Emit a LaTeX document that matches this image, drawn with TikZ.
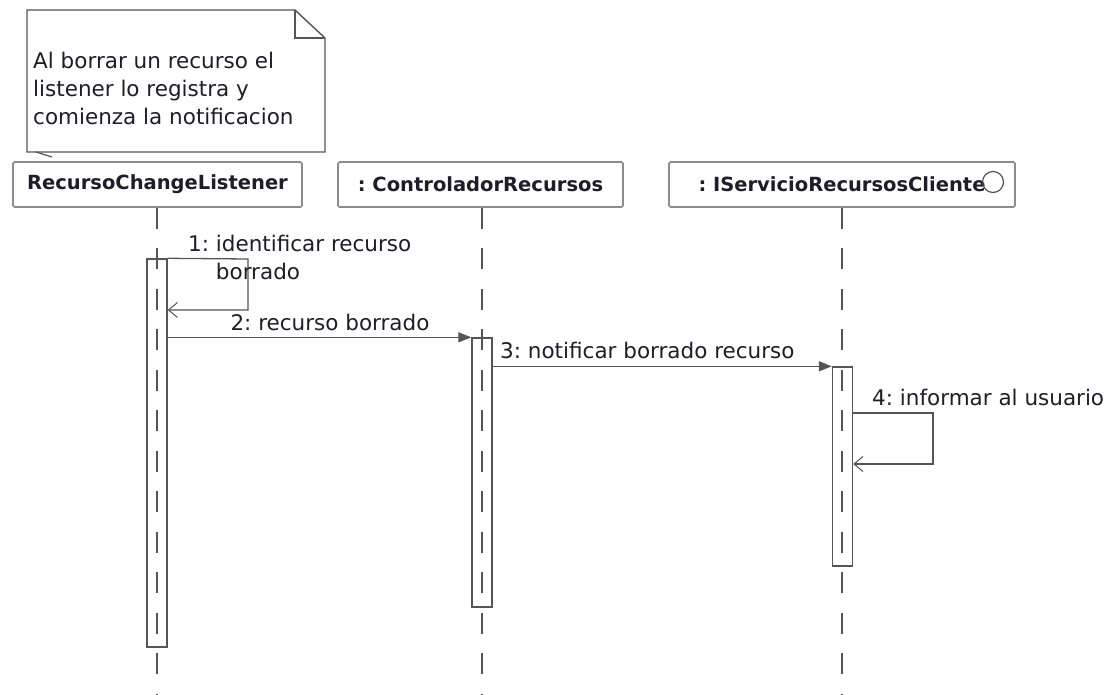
\documentclass[tikz,border=0pt]{standalone}
\usepackage{fontspec}
\setmainfont{DejaVu Sans}
\usetikzlibrary{arrows.meta}
\definecolor{edge}{HTML}{555555}
\definecolor{frame}{HTML}{8C8C8C}
\definecolor{ink}{HTML}{1E1E2A}
\frenchspacing
\begin{document}
\begin{tikzpicture}[x=1pt,y=-1pt,
  lifebox/.style={draw=frame, line width=1.7pt, rounded corners=1.5pt, fill=white,
    inner sep=0pt, minimum height=45pt, text=ink,
    font=\fontsize{19.5}{23}\selectfont\bfseries},
  lifeline/.style={draw=edge, line width=1.3pt, dash pattern=on 21pt off 19.5pt},
  actbox/.style={draw=edge, line width=1.4pt, minimum width=20pt, inner sep=0pt},
  label/.style={text=ink, inner sep=0pt, font=\fontsize{21.5}{28}\selectfont},
  call/.style={draw=edge, line width=1.3pt, -{Triangle[length=13pt,width=10pt]}},
  reply/.style={draw=edge, line width=1.3pt, -{Straight Barb[length=9pt,width=15pt,line width=1pt]}},
  notebox/.style={draw=edge, line width=1.4pt, line join=miter},
]
\useasboundingbox (0,0) rectangle (1113,695);

% comment note
\coordinate (nTL) at (27,10);
\coordinate (nFold) at (295,10);
\coordinate (nFoldIn) at (295,38);
\coordinate (nFoldR) at (325,38);
\coordinate (nBR) at (325,152);
\coordinate (nBL) at (27,152);
\fill[white] (nTL) -- (nFold) -- (nFoldR) -- (nBR) -- (nBL) -- cycle;
\draw[notebox] (nTL) -- (nFold) -- (nFoldR) -- (nBR) -- (nBL) -- cycle;
\draw[notebox] (nFold) -- (nFoldIn) -- (nFoldR);
\node[label, anchor=north west, align=left] (note) at (33,51.5)
  {Al borrar un recurso el\\listener lo registra y\\comienza la notificacion};
\coordinate (nLink) at (36,152);
\coordinate (nLinkEnd) at (52,157);
\draw[draw=edge, line width=1.2pt] (nLink) -- (nLinkEnd);

% participants
\node[lifebox, minimum width=289pt] (L1) at (157.5,184.5) {RecursoChangeListener};
\node[lifebox, minimum width=285pt] (L2) at (480.5,184.5) {: ControladorRecursos};
\node[lifebox, minimum width=346pt] (L3) at (842,184.5) {: IServicioRecursosCliente\hspace{8pt}};
\node[circle, draw=edge, line width=1.2pt, minimum size=21pt, inner sep=0pt] (iface) at (993,182) {};

% lifelines
\coordinate (E1) at (157,695);
\coordinate (E2) at (482,695);
\coordinate (E3) at (842,695);
\draw[lifeline] (L1.south -| E1) -- (E1);
\draw[lifeline] (L2.south -| E2) -- (E2);
\draw[lifeline] (L3.south -| E3) -- (E3);

% activation bars
\node[actbox, minimum height=388pt] (A1) at (157,453) {};
\node[actbox, minimum height=269pt] (A2) at (482,472.5) {};
\node[actbox, minimum height=199pt] (A3) at (842.5,466.5) {};

% messages
\coordinate (s1a) at (248,259);
\coordinate (s1b) at (248,310);
\draw[reply] (A1.north east) -- (s1a) -- (s1b) -- (A1.east |- s1b);
\node[label, anchor=base west, align=left] (m1) at (188,279)
  {1: identificar recurso\\\hphantom{1: }borrado};

\draw[call] (A1.east |- A2.north) -- (A2.north west);
\node[label, anchor=base] (m2) at (330,330) {2: recurso borrado};

\draw[call] (A2.east |- A3.north) -- (A3.north west);
\node[label, anchor=base west] (m3) at (500,358) {3: notificar borrado recurso};

\coordinate (s4a) at (933,413);
\coordinate (s4b) at (933,464);
\draw[reply] (A3.east |- s4a) -- (s4a) -- (s4b) -- (A3.east |- s4b);
\node[label, anchor=base west] (m4) at (872,405) {4: informar al usuario};
\end{tikzpicture}
\end{document}
